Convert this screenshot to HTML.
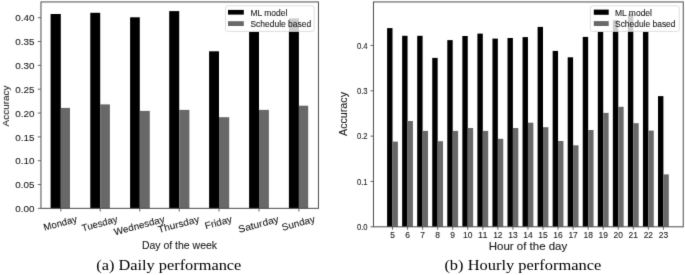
<!DOCTYPE html>
<html><head><meta charset="utf-8"><style>
html,body{margin:0;padding:0;background:#fff;}
body{width:685px;height:275px;overflow:hidden;font-family:"Liberation Sans", sans-serif;}
svg{display:block;}
svg{filter:grayscale(1);}
.wrap{width:685px;height:275px;}
</style></head><body><div class="wrap">
<svg width="685" height="275" viewBox="0 0 685 275"><defs><filter id="bl" x="0" y="0" width="685" height="275" filterUnits="userSpaceOnUse" color-interpolation-filters="sRGB"><feConvolveMatrix order="3" kernelMatrix="0.01 0.08 0.01 0.08 0.64 0.08 0.01 0.08 0.01" edgeMode="duplicate" preserveAlpha="true"/></filter></defs><g filter="url(#bl)"><rect width="685" height="275" fill="#fff"/>
<rect x="50.6" y="14" width="10.2" height="194.35" fill="#000" />
<rect x="60.8" y="107.9" width="9.2" height="100.45" fill="#686868" />
<rect x="90.3" y="12.8" width="9.9" height="195.55" fill="#000" />
<rect x="100.2" y="104.4" width="9.7" height="103.95" fill="#686868" />
<rect x="130.1" y="17.3" width="9.7" height="191.05" fill="#000" />
<rect x="139.8" y="110.9" width="10" height="97.45" fill="#686868" />
<rect x="169.2" y="11.1" width="10" height="197.25" fill="#000" />
<rect x="179.2" y="109.9" width="10.2" height="98.45" fill="#686868" />
<rect x="209.1" y="51.3" width="9.9" height="157.05" fill="#000" />
<rect x="219" y="117.2" width="10.2" height="91.15" fill="#686868" />
<rect x="249.1" y="31.8" width="9.9" height="176.55" fill="#000" />
<rect x="259" y="109.9" width="9.9" height="98.45" fill="#686868" />
<rect x="288.9" y="18.4" width="10" height="189.95" fill="#000" />
<rect x="298.9" y="105.7" width="9.3" height="102.65" fill="#686868" />
<rect x="40.95" y="1.95" width="277.5" height="206.4" fill="none" stroke="#4c4c4c" stroke-width="1.0"/>
<line x1="37.75" y1="208.35" x2="40.95" y2="208.35" stroke="#444" stroke-width="0.8"/>
<text x="34.4" y="212.05" font-size="9.8" text-anchor="end" fill="#1a1a1a" font-family='"Liberation Sans", sans-serif' stroke="#1a1a1a" stroke-width="0.1" textLength="19.2" lengthAdjust="spacingAndGlyphs" >0.00</text>
<line x1="37.75" y1="184.52" x2="40.95" y2="184.52" stroke="#444" stroke-width="0.8"/>
<text x="34.4" y="188.22" font-size="9.8" text-anchor="end" fill="#1a1a1a" font-family='"Liberation Sans", sans-serif' stroke="#1a1a1a" stroke-width="0.1" textLength="19.2" lengthAdjust="spacingAndGlyphs" >0.05</text>
<line x1="37.75" y1="160.69" x2="40.95" y2="160.69" stroke="#444" stroke-width="0.8"/>
<text x="34.4" y="164.39" font-size="9.8" text-anchor="end" fill="#1a1a1a" font-family='"Liberation Sans", sans-serif' stroke="#1a1a1a" stroke-width="0.1" textLength="19.2" lengthAdjust="spacingAndGlyphs" >0.10</text>
<line x1="37.75" y1="136.86" x2="40.95" y2="136.86" stroke="#444" stroke-width="0.8"/>
<text x="34.4" y="140.56" font-size="9.8" text-anchor="end" fill="#1a1a1a" font-family='"Liberation Sans", sans-serif' stroke="#1a1a1a" stroke-width="0.1" textLength="19.2" lengthAdjust="spacingAndGlyphs" >0.15</text>
<line x1="37.75" y1="113.03" x2="40.95" y2="113.03" stroke="#444" stroke-width="0.8"/>
<text x="34.4" y="116.73" font-size="9.8" text-anchor="end" fill="#1a1a1a" font-family='"Liberation Sans", sans-serif' stroke="#1a1a1a" stroke-width="0.1" textLength="19.2" lengthAdjust="spacingAndGlyphs" >0.20</text>
<line x1="37.75" y1="89.2" x2="40.95" y2="89.2" stroke="#444" stroke-width="0.8"/>
<text x="34.4" y="92.9" font-size="9.8" text-anchor="end" fill="#1a1a1a" font-family='"Liberation Sans", sans-serif' stroke="#1a1a1a" stroke-width="0.1" textLength="19.2" lengthAdjust="spacingAndGlyphs" >0.25</text>
<line x1="37.75" y1="65.37" x2="40.95" y2="65.37" stroke="#444" stroke-width="0.8"/>
<text x="34.4" y="69.07" font-size="9.8" text-anchor="end" fill="#1a1a1a" font-family='"Liberation Sans", sans-serif' stroke="#1a1a1a" stroke-width="0.1" textLength="19.2" lengthAdjust="spacingAndGlyphs" >0.30</text>
<line x1="37.75" y1="41.54" x2="40.95" y2="41.54" stroke="#444" stroke-width="0.8"/>
<text x="34.4" y="45.24" font-size="9.8" text-anchor="end" fill="#1a1a1a" font-family='"Liberation Sans", sans-serif' stroke="#1a1a1a" stroke-width="0.1" textLength="19.2" lengthAdjust="spacingAndGlyphs" >0.35</text>
<line x1="37.75" y1="17.71" x2="40.95" y2="17.71" stroke="#444" stroke-width="0.8"/>
<text x="34.4" y="21.41" font-size="9.8" text-anchor="end" fill="#1a1a1a" font-family='"Liberation Sans", sans-serif' stroke="#1a1a1a" stroke-width="0.1" textLength="19.2" lengthAdjust="spacingAndGlyphs" >0.40</text>
<line x1="60.8" y1="208.35" x2="60.8" y2="211.55" stroke="#444" stroke-width="0.8"/>
<line x1="100.2" y1="208.35" x2="100.2" y2="211.55" stroke="#444" stroke-width="0.8"/>
<line x1="139.8" y1="208.35" x2="139.8" y2="211.55" stroke="#444" stroke-width="0.8"/>
<line x1="179.2" y1="208.35" x2="179.2" y2="211.55" stroke="#444" stroke-width="0.8"/>
<line x1="219" y1="208.35" x2="219" y2="211.55" stroke="#444" stroke-width="0.8"/>
<line x1="259" y1="208.35" x2="259" y2="211.55" stroke="#444" stroke-width="0.8"/>
<line x1="298.9" y1="208.35" x2="298.9" y2="211.55" stroke="#444" stroke-width="0.8"/>
<g transform="translate(60.2,223.18) rotate(-15)">
<text x="0" y="3.3" font-size="9.6" text-anchor="middle" fill="#1a1a1a" font-family='"Liberation Sans", sans-serif' stroke="#1a1a1a" stroke-width="0.1" textLength="34.2" lengthAdjust="spacingAndGlyphs" >Monday</text>
</g>
<g transform="translate(99.6,223.48) rotate(-15)">
<text x="0" y="3.3" font-size="9.6" text-anchor="middle" fill="#1a1a1a" font-family='"Liberation Sans", sans-serif' stroke="#1a1a1a" stroke-width="0.1" textLength="36.5" lengthAdjust="spacingAndGlyphs" >Tuesday</text>
</g>
<g transform="translate(139.2,225.48) rotate(-15)">
<text x="0" y="3.3" font-size="9.6" text-anchor="middle" fill="#1a1a1a" font-family='"Liberation Sans", sans-serif' stroke="#1a1a1a" stroke-width="0.1" textLength="52.0" lengthAdjust="spacingAndGlyphs" >Wednesday</text>
</g>
<g transform="translate(178.6,224.25) rotate(-15)">
<text x="0" y="3.3" font-size="9.6" text-anchor="middle" fill="#1a1a1a" font-family='"Liberation Sans", sans-serif' stroke="#1a1a1a" stroke-width="0.1" textLength="42.5" lengthAdjust="spacingAndGlyphs" >Thursday</text>
</g>
<g transform="translate(218.4,222.35) rotate(-15)">
<text x="0" y="3.3" font-size="9.6" text-anchor="middle" fill="#1a1a1a" font-family='"Liberation Sans", sans-serif' stroke="#1a1a1a" stroke-width="0.1" textLength="27.8" lengthAdjust="spacingAndGlyphs" >Friday</text>
</g>
<g transform="translate(258.4,224.12) rotate(-15)">
<text x="0" y="3.3" font-size="9.6" text-anchor="middle" fill="#1a1a1a" font-family='"Liberation Sans", sans-serif' stroke="#1a1a1a" stroke-width="0.1" textLength="41.5" lengthAdjust="spacingAndGlyphs" >Saturday</text>
</g>
<g transform="translate(298.3,223.13) rotate(-15)">
<text x="0" y="3.3" font-size="9.6" text-anchor="middle" fill="#1a1a1a" font-family='"Liberation Sans", sans-serif' stroke="#1a1a1a" stroke-width="0.1" textLength="33.8" lengthAdjust="spacingAndGlyphs" >Sunday</text>
</g>
<text x="179.5" y="248.8" font-size="10.5" text-anchor="middle" fill="#1a1a1a" font-family='"Liberation Sans", sans-serif' stroke="#1a1a1a" stroke-width="0.1" textLength="75.2" lengthAdjust="spacingAndGlyphs" >Day of the week</text>
<g transform="translate(8.9,106) rotate(-90)">
<text x="0" y="0" font-size="9.4" text-anchor="middle" fill="#1a1a1a" font-family='"Liberation Sans", sans-serif' stroke="#1a1a1a" stroke-width="0.1" textLength="40.8" lengthAdjust="spacingAndGlyphs" >Accuracy</text>
</g>
<rect x="225.5" y="5.8" width="88.7" height="25.6" rx="2" ry="2" fill="#fff" fill-opacity="0.8" stroke="#d6d6d6" stroke-width="0.8"/>
<rect x="228" y="9.9" width="15.8" height="4.7" fill="#000" />
<rect x="228" y="21.2" width="15.8" height="4.8" fill="#686868" />
<text x="250.4" y="15.6" font-size="8.2" text-anchor="start" fill="#1a1a1a" font-family='"Liberation Sans", sans-serif' stroke="#1a1a1a" stroke-width="0.1" textLength="37" lengthAdjust="spacingAndGlyphs" >ML model</text>
<text x="250.4" y="26.8" font-size="8.2" text-anchor="start" fill="#1a1a1a" font-family='"Liberation Sans", sans-serif' stroke="#1a1a1a" stroke-width="0.1" textLength="60.8" lengthAdjust="spacingAndGlyphs" >Schedule based</text>
<rect x="387.1" y="28.1" width="5.4" height="198.7" fill="#000" />
<rect x="392.5" y="141.6" width="5.4" height="85.2" fill="#686868" />
<rect x="402.15" y="35.8" width="5.4" height="191" fill="#000" />
<rect x="407.55" y="121" width="5.4" height="105.8" fill="#686868" />
<rect x="417.2" y="35.8" width="5.4" height="191" fill="#000" />
<rect x="422.6" y="130.9" width="5.4" height="95.9" fill="#686868" />
<rect x="432.25" y="57.9" width="5.4" height="168.9" fill="#000" />
<rect x="437.65" y="141.2" width="5.4" height="85.6" fill="#686868" />
<rect x="447.3" y="40.1" width="5.4" height="186.7" fill="#000" />
<rect x="452.7" y="130.9" width="5.4" height="95.9" fill="#686868" />
<rect x="462.35" y="36" width="5.4" height="190.8" fill="#000" />
<rect x="467.75" y="128" width="5.4" height="98.8" fill="#686868" />
<rect x="477.4" y="33.6" width="5.4" height="193.2" fill="#000" />
<rect x="482.8" y="130.9" width="5.4" height="95.9" fill="#686868" />
<rect x="492.45" y="38.6" width="5.4" height="188.2" fill="#000" />
<rect x="497.85" y="138.8" width="5.4" height="88" fill="#686868" />
<rect x="507.5" y="38" width="5.4" height="188.8" fill="#000" />
<rect x="512.9" y="128" width="5.4" height="98.8" fill="#686868" />
<rect x="522.55" y="37.1" width="5.4" height="189.7" fill="#000" />
<rect x="527.95" y="122.7" width="5.4" height="104.1" fill="#686868" />
<rect x="537.6" y="26.9" width="5.4" height="199.9" fill="#000" />
<rect x="543" y="127.2" width="5.4" height="99.6" fill="#686868" />
<rect x="552.65" y="50.9" width="5.4" height="175.9" fill="#000" />
<rect x="558.05" y="141" width="5.4" height="85.8" fill="#686868" />
<rect x="567.7" y="57.3" width="5.4" height="169.5" fill="#000" />
<rect x="573.1" y="145.3" width="5.4" height="81.5" fill="#686868" />
<rect x="582.75" y="36.9" width="5.4" height="189.9" fill="#000" />
<rect x="588.15" y="130" width="5.4" height="96.8" fill="#686868" />
<rect x="597.8" y="31.8" width="5.4" height="195" fill="#000" />
<rect x="603.2" y="112.9" width="5.4" height="113.9" fill="#686868" />
<rect x="612.85" y="20.1" width="5.4" height="206.7" fill="#000" />
<rect x="618.25" y="106.8" width="5.4" height="120" fill="#686868" />
<rect x="627.9" y="13.9" width="5.4" height="212.9" fill="#000" />
<rect x="633.3" y="123.2" width="5.4" height="103.6" fill="#686868" />
<rect x="642.95" y="31.8" width="5.4" height="195" fill="#000" />
<rect x="648.35" y="130.6" width="5.4" height="96.2" fill="#686868" />
<rect x="658" y="96.1" width="5.4" height="130.7" fill="#000" />
<rect x="663.4" y="174.4" width="5.4" height="52.4" fill="#686868" />
<rect x="373.45" y="1.95" width="309.8" height="224.85" fill="none" stroke="#4c4c4c" stroke-width="1.0"/>
<line x1="370.45" y1="226.8" x2="373.45" y2="226.8" stroke="#444" stroke-width="0.8"/>
<text x="367.6" y="229.9" font-size="8.8" text-anchor="end" fill="#1a1a1a" font-family='"Liberation Sans", sans-serif' stroke="#1a1a1a" stroke-width="0.1" textLength="10.7" lengthAdjust="spacingAndGlyphs" >0.0</text>
<line x1="370.45" y1="181.47" x2="373.45" y2="181.47" stroke="#444" stroke-width="0.8"/>
<text x="367.6" y="184.57" font-size="8.8" text-anchor="end" fill="#1a1a1a" font-family='"Liberation Sans", sans-serif' stroke="#1a1a1a" stroke-width="0.1" textLength="10.7" lengthAdjust="spacingAndGlyphs" >0.1</text>
<line x1="370.45" y1="136.14" x2="373.45" y2="136.14" stroke="#444" stroke-width="0.8"/>
<text x="367.6" y="139.24" font-size="8.8" text-anchor="end" fill="#1a1a1a" font-family='"Liberation Sans", sans-serif' stroke="#1a1a1a" stroke-width="0.1" textLength="10.7" lengthAdjust="spacingAndGlyphs" >0.2</text>
<line x1="370.45" y1="90.81" x2="373.45" y2="90.81" stroke="#444" stroke-width="0.8"/>
<text x="367.6" y="93.91" font-size="8.8" text-anchor="end" fill="#1a1a1a" font-family='"Liberation Sans", sans-serif' stroke="#1a1a1a" stroke-width="0.1" textLength="10.7" lengthAdjust="spacingAndGlyphs" >0.3</text>
<line x1="370.45" y1="45.48" x2="373.45" y2="45.48" stroke="#444" stroke-width="0.8"/>
<text x="367.6" y="48.58" font-size="8.8" text-anchor="end" fill="#1a1a1a" font-family='"Liberation Sans", sans-serif' stroke="#1a1a1a" stroke-width="0.1" textLength="10.7" lengthAdjust="spacingAndGlyphs" >0.4</text>
<line x1="392.5" y1="226.8" x2="392.5" y2="229.8" stroke="#444" stroke-width="0.8"/>
<text x="392.5" y="238.2" font-size="8.6" text-anchor="middle" fill="#1a1a1a" font-family='"Liberation Sans", sans-serif' stroke="#1a1a1a" stroke-width="0.1" textLength="4.7" lengthAdjust="spacingAndGlyphs" >5</text>
<line x1="407.55" y1="226.8" x2="407.55" y2="229.8" stroke="#444" stroke-width="0.8"/>
<text x="407.55" y="238.2" font-size="8.6" text-anchor="middle" fill="#1a1a1a" font-family='"Liberation Sans", sans-serif' stroke="#1a1a1a" stroke-width="0.1" textLength="4.7" lengthAdjust="spacingAndGlyphs" >6</text>
<line x1="422.6" y1="226.8" x2="422.6" y2="229.8" stroke="#444" stroke-width="0.8"/>
<text x="422.6" y="238.2" font-size="8.6" text-anchor="middle" fill="#1a1a1a" font-family='"Liberation Sans", sans-serif' stroke="#1a1a1a" stroke-width="0.1" textLength="4.7" lengthAdjust="spacingAndGlyphs" >7</text>
<line x1="437.65" y1="226.8" x2="437.65" y2="229.8" stroke="#444" stroke-width="0.8"/>
<text x="437.65" y="238.2" font-size="8.6" text-anchor="middle" fill="#1a1a1a" font-family='"Liberation Sans", sans-serif' stroke="#1a1a1a" stroke-width="0.1" textLength="4.7" lengthAdjust="spacingAndGlyphs" >8</text>
<line x1="452.7" y1="226.8" x2="452.7" y2="229.8" stroke="#444" stroke-width="0.8"/>
<text x="452.7" y="238.2" font-size="8.6" text-anchor="middle" fill="#1a1a1a" font-family='"Liberation Sans", sans-serif' stroke="#1a1a1a" stroke-width="0.1" textLength="4.7" lengthAdjust="spacingAndGlyphs" >9</text>
<line x1="467.75" y1="226.8" x2="467.75" y2="229.8" stroke="#444" stroke-width="0.8"/>
<text x="467.75" y="238.2" font-size="8.6" text-anchor="middle" fill="#1a1a1a" font-family='"Liberation Sans", sans-serif' stroke="#1a1a1a" stroke-width="0.1" textLength="9.4" lengthAdjust="spacingAndGlyphs" >10</text>
<line x1="482.8" y1="226.8" x2="482.8" y2="229.8" stroke="#444" stroke-width="0.8"/>
<text x="482.8" y="238.2" font-size="8.6" text-anchor="middle" fill="#1a1a1a" font-family='"Liberation Sans", sans-serif' stroke="#1a1a1a" stroke-width="0.1" textLength="9.4" lengthAdjust="spacingAndGlyphs" >11</text>
<line x1="497.85" y1="226.8" x2="497.85" y2="229.8" stroke="#444" stroke-width="0.8"/>
<text x="497.85" y="238.2" font-size="8.6" text-anchor="middle" fill="#1a1a1a" font-family='"Liberation Sans", sans-serif' stroke="#1a1a1a" stroke-width="0.1" textLength="9.4" lengthAdjust="spacingAndGlyphs" >12</text>
<line x1="512.9" y1="226.8" x2="512.9" y2="229.8" stroke="#444" stroke-width="0.8"/>
<text x="512.9" y="238.2" font-size="8.6" text-anchor="middle" fill="#1a1a1a" font-family='"Liberation Sans", sans-serif' stroke="#1a1a1a" stroke-width="0.1" textLength="9.4" lengthAdjust="spacingAndGlyphs" >13</text>
<line x1="527.95" y1="226.8" x2="527.95" y2="229.8" stroke="#444" stroke-width="0.8"/>
<text x="527.95" y="238.2" font-size="8.6" text-anchor="middle" fill="#1a1a1a" font-family='"Liberation Sans", sans-serif' stroke="#1a1a1a" stroke-width="0.1" textLength="9.4" lengthAdjust="spacingAndGlyphs" >14</text>
<line x1="543" y1="226.8" x2="543" y2="229.8" stroke="#444" stroke-width="0.8"/>
<text x="543" y="238.2" font-size="8.6" text-anchor="middle" fill="#1a1a1a" font-family='"Liberation Sans", sans-serif' stroke="#1a1a1a" stroke-width="0.1" textLength="9.4" lengthAdjust="spacingAndGlyphs" >15</text>
<line x1="558.05" y1="226.8" x2="558.05" y2="229.8" stroke="#444" stroke-width="0.8"/>
<text x="558.05" y="238.2" font-size="8.6" text-anchor="middle" fill="#1a1a1a" font-family='"Liberation Sans", sans-serif' stroke="#1a1a1a" stroke-width="0.1" textLength="9.4" lengthAdjust="spacingAndGlyphs" >16</text>
<line x1="573.1" y1="226.8" x2="573.1" y2="229.8" stroke="#444" stroke-width="0.8"/>
<text x="573.1" y="238.2" font-size="8.6" text-anchor="middle" fill="#1a1a1a" font-family='"Liberation Sans", sans-serif' stroke="#1a1a1a" stroke-width="0.1" textLength="9.4" lengthAdjust="spacingAndGlyphs" >17</text>
<line x1="588.15" y1="226.8" x2="588.15" y2="229.8" stroke="#444" stroke-width="0.8"/>
<text x="588.15" y="238.2" font-size="8.6" text-anchor="middle" fill="#1a1a1a" font-family='"Liberation Sans", sans-serif' stroke="#1a1a1a" stroke-width="0.1" textLength="9.4" lengthAdjust="spacingAndGlyphs" >18</text>
<line x1="603.2" y1="226.8" x2="603.2" y2="229.8" stroke="#444" stroke-width="0.8"/>
<text x="603.2" y="238.2" font-size="8.6" text-anchor="middle" fill="#1a1a1a" font-family='"Liberation Sans", sans-serif' stroke="#1a1a1a" stroke-width="0.1" textLength="9.4" lengthAdjust="spacingAndGlyphs" >19</text>
<line x1="618.25" y1="226.8" x2="618.25" y2="229.8" stroke="#444" stroke-width="0.8"/>
<text x="618.25" y="238.2" font-size="8.6" text-anchor="middle" fill="#1a1a1a" font-family='"Liberation Sans", sans-serif' stroke="#1a1a1a" stroke-width="0.1" textLength="9.4" lengthAdjust="spacingAndGlyphs" >20</text>
<line x1="633.3" y1="226.8" x2="633.3" y2="229.8" stroke="#444" stroke-width="0.8"/>
<text x="633.3" y="238.2" font-size="8.6" text-anchor="middle" fill="#1a1a1a" font-family='"Liberation Sans", sans-serif' stroke="#1a1a1a" stroke-width="0.1" textLength="9.4" lengthAdjust="spacingAndGlyphs" >21</text>
<line x1="648.35" y1="226.8" x2="648.35" y2="229.8" stroke="#444" stroke-width="0.8"/>
<text x="648.35" y="238.2" font-size="8.6" text-anchor="middle" fill="#1a1a1a" font-family='"Liberation Sans", sans-serif' stroke="#1a1a1a" stroke-width="0.1" textLength="9.4" lengthAdjust="spacingAndGlyphs" >22</text>
<line x1="663.4" y1="226.8" x2="663.4" y2="229.8" stroke="#444" stroke-width="0.8"/>
<text x="663.4" y="238.2" font-size="8.6" text-anchor="middle" fill="#1a1a1a" font-family='"Liberation Sans", sans-serif' stroke="#1a1a1a" stroke-width="0.1" textLength="9.4" lengthAdjust="spacingAndGlyphs" >23</text>
<text x="528" y="249.9" font-size="10.5" text-anchor="middle" fill="#1a1a1a" font-family='"Liberation Sans", sans-serif' stroke="#1a1a1a" stroke-width="0.1" textLength="78.5" lengthAdjust="spacingAndGlyphs" >Hour of the day</text>
<g transform="translate(346.9,114) rotate(-90)">
<text x="0" y="0" font-size="10.0" text-anchor="middle" fill="#1a1a1a" font-family='"Liberation Sans", sans-serif' stroke="#1a1a1a" stroke-width="0.1" textLength="44" lengthAdjust="spacingAndGlyphs" >Accuracy</text>
</g>
<rect x="590.4" y="5.8" width="88.9" height="25.6" rx="2" ry="2" fill="#fff" fill-opacity="0.8" stroke="#d6d6d6" stroke-width="0.8"/>
<rect x="593.8" y="9.6" width="14.9" height="5.2" fill="#000" />
<rect x="593.8" y="21.1" width="14.9" height="4.9" fill="#686868" />
<text x="615" y="15.6" font-size="8.2" text-anchor="start" fill="#1a1a1a" font-family='"Liberation Sans", sans-serif' stroke="#1a1a1a" stroke-width="0.1" textLength="37" lengthAdjust="spacingAndGlyphs" >ML model</text>
<text x="615" y="26.8" font-size="8.2" text-anchor="start" fill="#1a1a1a" font-family='"Liberation Sans", sans-serif' stroke="#1a1a1a" stroke-width="0.1" textLength="60.5" lengthAdjust="spacingAndGlyphs" >Schedule based</text>
<text x="96.2" y="269.9" font-size="14.2" text-anchor="start" fill="#000" font-family='"Liberation Serif", serif' textLength="145.2" lengthAdjust="spacingAndGlyphs" >(a) Daily performance</text>
<text x="444.4" y="269.7" font-size="14.2" text-anchor="start" fill="#000" font-family='"Liberation Serif", serif' textLength="157" lengthAdjust="spacingAndGlyphs" >(b) Hourly performance</text>
</g>
</svg></div>
</body></html>
